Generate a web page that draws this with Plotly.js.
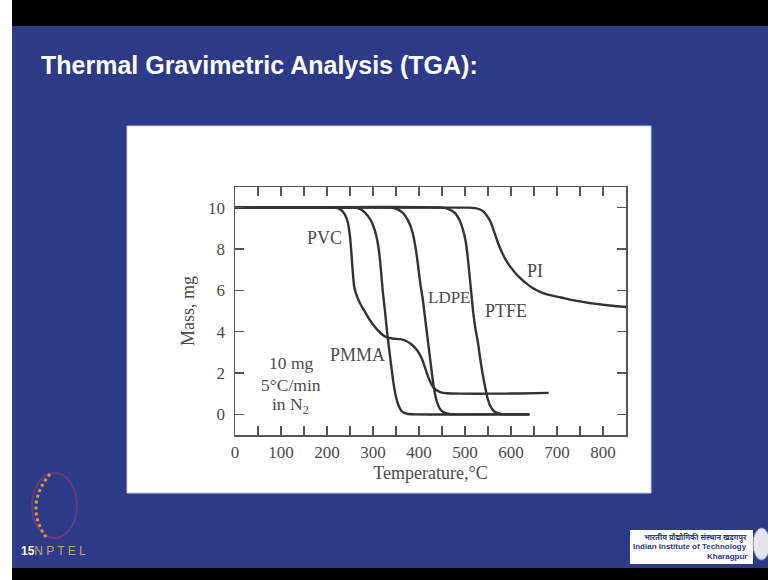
<!DOCTYPE html>
<html>
<head>
<meta charset="utf-8">
<script src="https://cdn.plot.ly/plotly-3.0.1.min.js"></script>
<style>html,body{margin:0;padding:0;background:#2d3a88;}#chart{width:768px;height:580px;}</style>
</head>
<body>
<div id="chart"></div>
<script>
// ---- Data ----
const pvcT  = [0,215,228,238,245,250,253,256,259,263,270,280,292,305,318,330,345,360,372,384,396,406,414,421,428,436,446,460,490,560,620,682];
const pvcM  = [10,10,9.93,9.7,9.3,8.6,7.8,6.9,6.2,5.85,5.45,5.05,4.6,4.2,3.9,3.72,3.66,3.64,3.55,3.38,3.1,2.7,2.2,1.75,1.42,1.2,1.08,1.02,1.0,1.0,1.01,1.04];

const pmmaT = [0,258,270,283,295,304,311,316,321,326,331,336,341,346,351,357,364,374,390,640];
const pmmaM = [10,10,9.95,9.75,9.4,8.9,8.2,7.3,6.0,5.0,3.9,3.0,2.1,1.3,0.75,0.35,0.12,0.03,0,0];

const ldpeT = [0,340,352,365,377,386,393,398,403,408,413,418,423,428,433,439,446,455,468,480,640];
const ldpeM = [10,10,9.93,9.75,9.35,8.8,8.0,7.2,6.3,5.6,4.7,3.8,2.9,2.0,1.2,0.6,0.25,0.08,0.01,0,0];

const ptfeT = [0,450,465,478,488,496,502,506,510,514,518,523,528,533,538,544,549,555,563,573,585,640];
const ptfeM = [10,10,9.92,9.75,9.4,8.9,8.3,7.6,6.7,5.8,4.9,4.1,3.5,2.7,2.0,1.3,0.78,0.4,0.15,0.04,0,0];

const piT   = [0,510,525,538,548,556,563,570,578,588,600,615,630,648,668,690,715,740,770,800,830,850];
const piM   = [10,10,9.97,9.85,9.6,9.3,8.85,8.4,7.95,7.5,7.1,6.7,6.4,6.1,5.88,5.74,5.62,5.5,5.39,5.3,5.23,5.19];

const xTickVals = [0,100,200,300,400,500,600,700,800];
const yTickVals = [0,2,4,6,8,10];

const curveLabels = ["PVC","PMMA","LDPE","PTFE","PI"];
const curveLabelT = [195,266,467,589,652];
const curveLabelM = [8.52,2.88,5.65,5.0,6.95];

const noteLines = ["10 mg","5°C/min","in N<sub>2</sub>"];
const noteT = [121,121,121];
const noteM = [2.48,1.42,0.45];

const slideTitle = "Thermal Gravimetric Analysis (TGA):";
const xTitle = "Temperature,°C";
const yTitle = "Mass, mg";

// ---- Layout helpers (pixel -> paper) ----
const W = 768, H = 580;
const mL = 235, mR = 142, mT = 187, mB = 145;
const pw = W - mL - mR, ph = H - mT - mB;
const px = x => (x - mL) / pw;
const py = y => (H - mB - y) / ph;

const lineStyle = {color:'#333333', width:2.4, shape:'spline', smoothing:0.5};
const series = [[pvcT,pvcM],[pmmaT,pmmaM],[ldpeT,ldpeM],[ptfeT,ptfeM],[piT,piM]];
const traces = series.map((s,i)=>({
  x:s[0], y:s[1], type:'scatter', mode:'lines', line:lineStyle, hoverinfo:'skip', name:curveLabels[i]
}));

const serif = 'Liberation Serif, Times New Roman, serif';
const txt = '#4a4a4a';
const sans = 'Liberation Sans, Arial, sans-serif';

const annotations = [];
curveLabels.forEach((t,i)=>annotations.push({x:curveLabelT[i], y:curveLabelM[i], xref:'x', yref:'y', text:t, showarrow:false, font:{family:serif,size:i===2?17:18,color:txt}}));
noteLines.forEach((t,i)=>annotations.push({x:noteT[i], y:noteM[i], xref:'x', yref:'y', text:t, showarrow:false, font:{family:serif,size:17.5,color:txt}}));

// slide title
annotations.push({xref:'paper', yref:'paper', x:px(39), y:py(65), xanchor:'left', yanchor:'middle', text:'<b>'+slideTitle+'</b>', showarrow:false, font:{family:sans, size:25, color:'#ffffff'}});
// NPTEL
annotations.push({xref:'paper', yref:'paper', x:px(19), y:py(551), xanchor:'left', yanchor:'middle', text:'<b>15</b><span style="color:#c9a070">N P T E L</span>', showarrow:false, font:{family:sans, size:12, color:'#ffffff'}});
// IIT text
annotations.push({xref:'paper', yref:'paper', x:px(749), y:py(537), xanchor:'right', yanchor:'middle', text:'<b>भारतीय प्रौद्योगिकी संस्थान खड़गपुर</b>', showarrow:false, font:{family:'Noto Sans, DejaVu Sans, sans-serif', size:7.5, color:'#2d3a88'}});
annotations.push({xref:'paper', yref:'paper', x:px(749), y:py(546), xanchor:'right', yanchor:'middle', text:'<b>Indian Institute of Technology</b>', showarrow:false, font:{family:sans, size:8, color:'#2d3a88'}});
annotations.push({xref:'paper', yref:'paper', x:px(749), y:py(556), xanchor:'right', yanchor:'middle', text:'<b>Kharagpur</b>', showarrow:false, font:{family:sans, size:8, color:'#2d3a88'}});

const shapes = [
  // left white strip
  {type:'rect', xref:'paper', yref:'paper', x0:px(0), x1:px(12), y0:py(580), y1:py(0), fillcolor:'#ffffff', line:{width:0}, layer:'below'},
  // top black bar
  {type:'rect', xref:'paper', yref:'paper', x0:px(12), x1:px(768), y0:py(26), y1:py(0), fillcolor:'#000000', line:{width:0}, layer:'below'},
  // bottom black bar
  {type:'rect', xref:'paper', yref:'paper', x0:px(12), x1:px(768), y0:py(580), y1:py(568), fillcolor:'#000000', line:{width:0}, layer:'below'},
  // white chart panel
  {type:'rect', xref:'paper', yref:'paper', x0:px(127), x1:px(651), y0:py(493), y1:py(126), fillcolor:'#ffffff', line:{color:'#c8cbe0', width:1}, layer:'below'},
  // IIT logo box
  {type:'rect', xref:'paper', yref:'paper', x0:px(630), x1:px(753), y0:py(564), y1:py(530), fillcolor:'#ffffff', line:{width:0}, layer:'below'},
  {type:'circle', xref:'paper', yref:'paper', x0:px(753), x1:px(770), y0:py(560), y1:py(528), fillcolor:'#e4e5ee', line:{color:'#8a8fb8', width:1}, layer:'below'},
  // NPTEL ring
  {type:'circle', xref:'paper', yref:'paper', x0:px(32), x1:px(77), y0:py(538), y1:py(473), line:{color:'#6a3a78', width:2}, layer:'below'},
  {type:'path', xref:'paper', yref:'paper', layer:'below',
   path:'M '+px(50)+' '+py(474)+' Q '+px(24)+' '+py(506)+' '+px(46)+' '+py(537),
   line:{color:'#d89a3a', width:3, dash:'dot'}}
];

const axisCommon = {
  showline:true, mirror:'ticks', linecolor:'#555555', linewidth:1.5,
  ticks:'inside', tickcolor:'#555555', tickwidth:1.3, ticklen:9,
  showgrid:false, zeroline:false,
  tickfont:{family:serif, size:17, color:txt}
};

const layout = {
  width:W, height:H,
  margin:{l:mL, r:mR, t:mT, b:mB, pad:0},
  paper_bgcolor:'#2d3a88', plot_bgcolor:'#ffffff',
  showlegend:false,
  xaxis:Object.assign({}, axisCommon, {
    range:[0,850], tickmode:'array', tickvals:xTickVals, ticklabelstandoff:1,
    minor:{tick0:0, dtick:50, ticks:'inside', ticklen:9, tickcolor:'#555555', tickwidth:1.3},
    title:{text:xTitle, standoff:5, font:{family:serif, size:18, color:txt}}
  }),
  yaxis:Object.assign({}, axisCommon, {
    range:[-1,11], tickmode:'array', tickvals:yTickVals, ticklabelstandoff:5,
    title:{text:yTitle, standoff:9, font:{family:serif, size:18, color:txt}}
  }),
  annotations:annotations,
  shapes:shapes
};

Plotly.newPlot('chart', traces, layout, {staticPlot:true, displayModeBar:false});
</script>
</body>
</html>
